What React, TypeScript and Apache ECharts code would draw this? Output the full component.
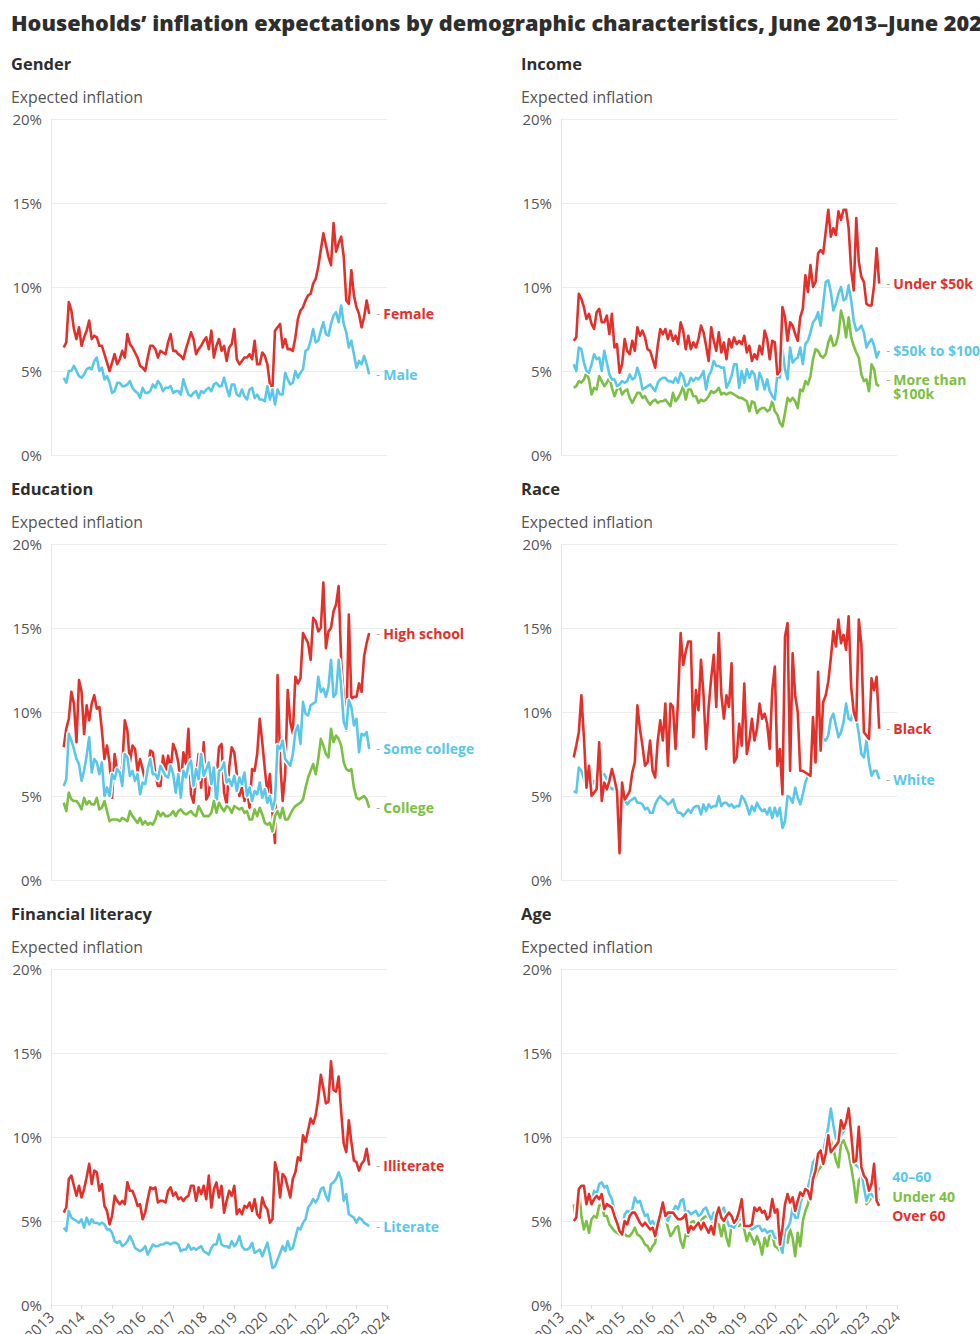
import React, { useEffect, useRef } from "react";
import * as echarts from "echarts";

// ---------- DATA (monthly, June 2013 – June 2023, percent) ----------
const START_YEAR = 2013;
const START_MONTH = 6; // June
const yearTicks = [2013, 2014, 2015, 2016, 2017, 2018, 2019, 2020, 2021, 2022, 2023, 2024];
const yTicks = [0, 5, 10, 15, 20];

const genderFemale = [
  6.4, 6.7, 9.1, 8.6, 7.5, 6.9, 7.6, 6.5, 7.0, 7.4, 8.0, 6.9,
  7.1, 7.0, 6.5, 6.5, 6.0, 5.5, 5.0, 5.5, 6.0, 5.4, 5.7, 6.2,
  5.8, 7.2, 6.6, 6.4, 6.1, 5.8, 5.3, 5.2, 5.0, 5.8, 6.5, 6.5,
  6.3, 5.8, 6.2, 6.1, 6.0, 6.7, 7.2, 6.2, 6.2, 6.0, 5.9, 5.7,
  6.3, 6.8, 7.3, 6.9, 6.0, 6.3, 6.5, 6.8, 7.0, 6.3, 7.4, 5.8,
  6.5, 6.9, 6.2, 6.5, 5.6, 6.4, 6.6, 7.5, 5.7, 5.4, 5.6, 5.8,
  5.8, 6.0, 5.7, 6.8, 5.4, 5.4, 6.1, 5.9, 5.4, 4.2, 4.0, 7.4,
  7.6, 7.8, 6.4, 6.9, 6.3, 6.3, 6.2, 7.0, 8.1, 8.6, 8.8, 9.2,
  9.5, 9.6, 10.2, 10.5, 11.2, 12.2, 13.2, 12.5, 11.8, 11.3, 13.8, 12.1,
  12.6, 13.0, 11.8, 9.2, 9.0, 11.0, 9.5, 8.8, 8.4, 7.6, 8.2, 9.2,
  8.4,
];
const genderMale = [
  4.6, 4.3, 5.0, 5.0, 5.3, 5.0, 4.7, 4.6, 4.8, 5.1, 5.2, 5.1,
  5.6, 5.8, 5.0, 5.2, 4.5, 4.7, 4.3, 3.7, 3.8, 4.3, 4.3, 4.1,
  4.1, 4.2, 4.4, 4.0, 3.8, 3.7, 3.4, 4.0, 3.7, 3.7, 3.8, 4.2,
  4.0, 4.4, 4.2, 3.8, 4.0, 4.0, 4.1, 3.7, 3.8, 3.8, 3.6, 4.5,
  4.0, 3.6, 3.5, 3.7, 3.8, 3.4, 3.8, 3.7, 3.9, 4.0, 3.8, 4.2,
  4.3, 4.1, 4.1, 4.6, 4.0, 3.5, 4.2, 4.2, 3.6, 3.5, 3.9, 3.5,
  3.3, 3.9, 4.0, 3.4, 3.6, 3.3, 3.3, 3.2, 4.1, 3.3, 3.9, 3.0,
  3.9, 3.6, 3.6, 4.9, 4.5, 4.2, 4.3, 5.0, 4.6, 4.9, 5.1, 6.2,
  6.3, 6.8, 7.5, 6.7, 6.8, 7.4, 7.9, 7.2, 7.1, 7.8, 8.3, 8.5,
  7.9, 8.9, 7.8, 7.3, 6.4, 6.8, 6.0, 5.2, 5.6, 5.4, 5.9, 5.4,
  4.8,
];

const incomeUnder50 = [
  6.8, 7.0, 9.6, 9.3, 8.8, 8.1, 8.4, 7.8, 7.5, 8.5, 8.7, 7.9,
  7.9, 8.3, 7.2, 8.4, 6.4, 6.6, 4.9, 5.4, 6.9, 6.2, 6.0, 6.8,
  6.2, 7.6, 7.1, 7.4, 7.0, 6.3, 6.2, 5.7, 5.2, 6.5, 7.5, 7.2,
  7.5, 6.9, 7.4, 6.8, 7.1, 6.6, 7.9, 7.4, 6.3, 7.1, 6.3, 6.7,
  6.4, 6.9, 7.7, 7.3, 6.5, 5.6, 7.6, 6.8, 6.2, 7.3, 6.1, 6.7,
  5.7, 6.9, 6.4, 7.0, 6.6, 6.8, 6.6, 7.1, 6.1, 6.5, 5.6, 6.0,
  5.7, 6.5, 6.0, 7.4, 6.9, 5.7, 6.8, 6.7, 4.8, 5.0, 8.8, 8.2,
  6.8, 7.9, 7.7, 7.2, 6.8, 8.2, 8.7, 10.7, 9.7, 11.3, 10.0, 10.3,
  12.0, 12.2, 12.0, 13.3, 14.6, 13.0, 13.5, 13.1, 14.5, 14.0, 14.6, 14.6,
  13.5, 11.0, 9.8, 14.1, 11.5, 10.6, 10.3, 9.0, 8.9, 8.9, 10.1, 12.3,
  10.2,
];
const income50to100 = [
  5.4, 5.0, 6.4, 6.3, 5.5, 5.0, 4.9, 5.4, 6.0, 5.7, 5.8, 5.0,
  6.2, 5.5, 4.8, 4.5, 4.5, 4.1, 4.2, 4.4, 4.3, 4.4, 4.8, 4.5,
  4.6, 5.2, 4.7, 3.9, 4.0, 4.1, 4.2, 4.0, 3.8, 4.3, 4.5, 4.6,
  4.6, 4.4, 4.4, 4.3, 4.6, 4.3, 4.9, 4.7, 4.1, 4.2, 4.6, 4.4,
  4.6, 4.5, 4.7, 5.0, 3.9, 4.7, 5.0, 5.6, 5.3, 5.3, 5.2, 5.2,
  4.0, 4.3, 4.7, 5.4, 5.4, 4.0, 5.0, 4.3, 5.1, 4.6, 5.0, 4.8,
  3.9, 4.9, 4.5, 3.9, 4.5, 3.8, 3.5, 3.3, 4.8, 4.6, 6.3, 5.1,
  4.5, 6.4, 5.5, 5.7, 5.8, 6.4, 5.4, 6.6, 6.8, 7.3, 7.9, 8.1,
  8.5, 7.7, 9.0, 10.3, 10.4, 9.7, 8.6, 9.0, 9.6, 10.0, 9.2, 9.3,
  10.1, 9.2, 8.0, 7.4, 7.5, 7.7, 7.3, 6.4, 6.7, 6.9, 6.5, 5.8,
  6.2,
];
const incomeOver100 = [
  4.0, 4.1, 4.4, 4.3, 4.5, 4.9, 4.5, 3.6, 4.0, 3.9, 4.7, 4.4,
  4.1, 4.3, 4.6, 4.0, 3.5, 3.9, 4.1, 3.6, 3.8, 3.9, 3.4, 3.1,
  3.4, 3.7, 3.7, 3.4, 3.5, 3.2, 3.0, 3.2, 3.3, 3.1, 3.2, 3.2,
  3.3, 3.1, 2.9, 3.7, 3.2, 3.4, 3.7, 4.1, 3.3, 3.9, 3.9, 3.5,
  3.5, 3.1, 3.3, 3.2, 3.3, 3.5, 3.8, 3.7, 3.8, 4.0, 3.6, 3.7,
  3.6, 3.7, 3.7, 3.6, 3.5, 3.4, 3.4, 3.3, 3.2, 2.6, 3.2, 3.1,
  2.5, 2.7, 2.8, 2.8, 2.6, 2.7, 3.2, 2.6, 2.4, 1.9, 1.7, 2.5,
  3.4, 3.2, 3.4, 3.2, 2.8, 3.9, 3.8, 4.4, 4.2, 4.7, 5.7, 6.3,
  6.2, 5.9, 5.8, 6.0, 6.7, 7.1, 6.5, 6.6, 7.2, 8.6, 8.0, 7.0,
  8.2, 7.0, 6.5, 6.1, 5.8, 4.8, 4.4, 4.5, 3.8, 5.4, 5.1, 4.2,
  4.1,
];

const eduHighSchool = [
  7.9, 9.0, 9.6, 11.2, 10.5, 8.2, 11.9, 11.2, 8.7, 10.4, 9.5, 10.5,
  11.0, 10.2, 10.3, 8.9, 7.2, 8.0, 7.0, 4.9, 7.5, 6.5, 6.0, 6.8,
  9.5, 8.9, 7.0, 8.0, 7.8, 6.5, 7.2, 6.6, 5.9, 6.5, 7.7, 7.6,
  6.3, 5.6, 5.6, 7.4, 6.5, 7.4, 6.6, 8.1, 7.7, 7.0, 5.6, 7.6,
  6.9, 9.0, 5.1, 4.6, 6.1, 7.5, 5.5, 8.2, 4.8, 5.1, 6.7, 5.5,
  6.0, 7.9, 8.1, 5.2, 4.5, 6.7, 7.9, 7.6, 6.3, 5.0, 5.5, 4.7,
  5.4, 4.3, 6.6, 6.5, 7.5, 9.6, 8.2, 6.6, 5.2, 6.3, 4.0, 2.2,
  12.2, 7.2, 4.7, 6.3, 11.3, 9.4, 8.7, 12.1, 11.7, 12.0, 14.7, 14.4,
  14.1, 13.1, 15.6, 15.4, 14.8, 15.0, 17.7, 13.8, 14.8, 15.0, 16.0, 16.4,
  17.5, 13.0, 10.9, 8.9, 15.8, 10.8, 10.9, 10.9, 11.7, 11.2, 13.3, 14.1,
  14.7,
];
const eduSomeCollege = [
  5.6, 6.0, 8.7, 8.3, 7.8, 7.2, 6.9, 5.9, 6.5, 7.4, 8.5, 6.4,
  7.2, 7.0, 6.3, 7.0, 5.0, 5.5, 5.0, 6.3, 6.0, 6.6, 6.4, 5.6,
  7.5, 7.3, 6.2, 6.5, 5.9, 6.3, 5.1, 5.8, 5.7, 6.6, 7.2, 6.3,
  6.3, 6.0, 6.8, 6.5, 6.2, 6.1, 6.8, 6.3, 5.2, 6.3, 4.9, 6.5,
  6.1, 6.8, 7.1, 5.6, 6.6, 6.0, 7.5, 6.2, 6.6, 7.0, 5.7, 6.7,
  4.4, 6.5, 6.6, 7.0, 5.8, 6.0, 5.6, 6.2, 5.3, 6.1, 5.7, 6.4,
  5.0, 5.5, 4.7, 5.3, 5.1, 5.8, 4.9, 5.4, 4.6, 5.0, 4.2, 4.8,
  8.0, 7.8, 8.3, 7.2, 7.0, 6.8, 7.5, 8.8, 9.2, 8.1, 10.6, 9.9,
  9.8, 10.4, 10.5, 10.6, 12.1, 11.2, 11.4, 10.9, 11.5, 13.1, 10.9, 11.1,
  13.1, 11.5, 9.4, 9.0, 10.7, 10.3, 9.2, 9.6, 7.6, 8.7, 8.6, 8.8,
  7.8,
];
const eduCollege = [
  4.6, 4.1, 5.2, 4.8, 4.7, 4.7, 4.5, 4.2, 4.9, 4.5, 4.7, 4.5,
  4.5, 4.9, 4.2, 4.3, 4.7, 4.1, 3.5, 3.6, 3.6, 3.6, 3.5, 3.7,
  3.6, 3.5, 4.1, 3.8, 3.6, 3.4, 3.7, 3.3, 3.5, 3.3, 3.4, 3.3,
  3.6, 4.1, 3.8, 4.0, 3.8, 3.8, 3.9, 4.1, 3.8, 4.1, 4.2, 4.0,
  3.9, 4.0, 4.1, 3.9, 3.8, 4.4, 4.1, 3.8, 3.8, 3.8, 4.0, 4.7,
  4.0, 4.6, 4.3, 4.1, 4.4, 4.3, 4.0, 4.4, 4.3, 4.2, 4.3, 4.0,
  4.1, 3.6, 3.6, 4.2, 3.8, 4.3, 3.9, 3.4, 3.3, 3.4, 2.9, 3.8,
  4.1, 3.7, 4.3, 3.6, 3.6, 3.9, 4.2, 4.4, 4.5, 4.6, 4.8, 5.5,
  6.1, 6.5, 6.9, 6.3, 7.2, 8.4, 8.0, 7.5, 7.3, 9.0, 8.2, 8.6,
  8.4, 8.0, 7.0, 6.6, 6.5, 6.6, 5.5, 4.9, 4.8, 4.9, 5.0, 4.8,
  4.3,
];

const raceBlack = [
  7.3, 8.0, 8.8, 11.0, 8.5, 5.5, 6.8, 5.0, 5.2, 5.4, 8.2, 4.7,
  5.8, 5.4, 5.9, 6.6, 6.0, 5.3, 1.6, 5.8, 4.8, 5.0, 5.3, 6.4,
  7.0, 10.4, 9.0, 8.0, 6.8, 7.0, 8.3, 6.5, 6.1, 8.3, 9.5, 8.3,
  10.5, 6.8, 10.5, 10.3, 7.8, 10.8, 14.7, 12.8, 13.6, 14.2, 14.2, 8.5,
  11.3, 10.1, 13.1, 11.0, 7.8, 10.3, 12.0, 13.4, 10.3, 14.7, 11.0, 9.6,
  11.0, 10.3, 12.9, 7.0, 7.3, 9.3, 8.0, 11.7, 7.5, 8.3, 9.6, 8.3,
  9.0, 10.5, 9.6, 9.9, 9.3, 7.8, 11.3, 12.7, 6.8, 7.8, 5.1, 14.5,
  15.3, 6.5, 13.5, 11.0, 10.0, 6.5, 6.5, 6.4, 6.3, 6.2, 9.7, 7.0,
  12.4, 7.7, 10.6, 11.0, 11.8, 13.2, 14.8, 13.9, 15.5, 14.1, 14.6, 13.7,
  15.7, 11.5, 10.0, 9.5, 15.5, 14.0, 8.8, 8.6, 8.4, 12.0, 11.3, 12.1,
  9.0,
];
const raceWhite = [
  5.3, 5.2, 6.7, 6.5, 6.0, 5.5, 6.0, 5.6, 5.9, 5.7, 6.2, 6.2,
  6.3, 6.0, 5.6, 5.4, 5.5, 4.9, 4.6, 4.7, 4.8, 4.5, 4.7, 4.8,
  4.9, 4.6, 4.6, 4.5, 4.2, 4.3, 4.0, 4.0, 4.5, 4.8, 5.0, 4.8,
  4.7, 4.5, 4.6, 4.8, 4.3, 4.0, 4.0, 3.8, 4.0, 4.2, 4.0, 4.3,
  4.4, 4.4, 3.9, 4.5, 4.1, 4.5, 4.3, 4.4, 4.4, 5.0, 4.4, 4.6,
  4.6, 4.4, 4.5, 4.3, 4.4, 4.4, 5.0, 4.8, 4.4, 3.9, 4.4, 4.1,
  4.6, 4.3, 4.1, 4.2, 3.9, 4.3, 3.7, 4.3, 3.8, 4.3, 3.1, 3.5,
  5.0, 4.9, 4.6, 5.5, 4.9, 4.5, 5.1, 5.8, 6.2, 6.7, 7.0, 7.5,
  7.7, 7.9, 8.4, 8.3, 8.6, 9.6, 9.9, 9.2, 8.5, 8.8, 9.4, 10.5,
  9.6, 9.5, 10.5, 9.6, 8.7, 7.5, 7.3, 8.3, 7.0, 6.2, 6.5, 6.5,
  6.0,
];

const litIlliterate = [
  5.5, 5.8, 7.5, 7.7, 7.1, 6.5, 7.1, 6.4, 6.9, 7.6, 8.4, 7.2,
  8.0, 7.9, 6.8, 7.2, 5.9, 5.6, 4.8, 5.3, 6.5, 6.2, 6.0, 6.2,
  6.0, 7.3, 6.8, 6.8, 6.4, 5.9, 6.0, 5.1, 5.5, 6.3, 7.0, 6.9,
  7.0, 6.1, 6.2, 6.2, 6.1, 6.8, 7.0, 6.5, 6.7, 6.3, 6.4, 6.2,
  6.4, 6.5, 7.1, 7.1, 6.2, 7.0, 6.6, 7.1, 6.3, 7.7, 5.8, 6.9,
  7.3, 6.4, 7.1, 5.5, 6.2, 6.8, 6.5, 7.1, 5.4, 5.7, 5.4, 5.9,
  5.8, 6.1, 5.6, 6.3, 5.4, 5.2, 6.4, 5.9, 5.7, 4.9, 5.1, 8.5,
  7.9, 6.4, 7.8, 7.6, 7.0, 6.4, 7.5, 7.9, 8.8, 8.6, 10.1, 9.7,
  10.4, 11.1, 10.8, 11.3, 12.3, 13.7, 12.9, 12.0, 12.1, 14.5, 12.8, 12.7,
  13.6, 11.5, 9.6, 9.1, 11.0, 9.7, 8.6, 8.5, 8.0, 8.4, 8.6, 9.3,
  8.3,
];
const litLiterate = [
  4.6, 4.4, 5.6, 5.2, 5.1, 5.0, 4.9, 5.1, 4.6, 5.2, 4.8, 5.1,
  4.9, 4.9, 4.8, 4.9, 4.8, 4.5, 4.5, 4.3, 3.8, 3.7, 3.8, 3.5,
  3.6, 3.8, 4.1, 3.8, 3.4, 3.3, 3.2, 3.3, 3.5, 3.0, 3.3, 3.6,
  3.5, 3.5, 3.6, 3.6, 3.7, 3.7, 3.6, 3.7, 3.7, 3.6, 3.2, 3.3,
  3.3, 3.6, 3.3, 3.4, 3.3, 3.4, 3.5, 3.2, 3.1, 3.0, 3.4, 3.6,
  3.6, 4.2, 3.6, 3.5, 3.5, 3.4, 3.8, 3.5, 3.7, 4.1, 3.5, 3.3,
  3.3, 3.4, 3.7, 3.1, 3.2, 3.3, 2.9, 3.3, 3.7, 3.0, 2.2, 2.3,
  2.7, 3.1, 3.5, 3.2, 3.8, 3.3, 3.4, 4.0, 4.6, 4.5, 4.9, 5.1,
  5.8, 6.0, 6.3, 6.1, 6.4, 6.9, 7.0, 6.5, 6.2, 7.2, 7.3, 7.5,
  7.9, 7.5, 6.2, 6.6, 5.4, 5.3, 5.2, 4.9, 5.2, 5.1, 4.9, 4.8,
  4.7,
];

const age40to60 = [
  5.0, 5.3, 7.0, 7.1, 6.9, 6.2, 6.5, 6.2, 6.8, 6.6, 7.2, 7.3,
  7.0, 7.1, 6.6, 6.3, 5.6, 5.2, 4.6, 4.4, 5.4, 5.6, 5.5, 5.7,
  6.4, 6.1, 6.2, 5.7, 5.3, 5.4, 4.8, 5.0, 4.7, 5.1, 5.6, 5.8,
  5.4, 5.0, 5.4, 5.6, 5.9, 5.7, 6.2, 6.3, 5.4, 5.6, 5.4, 5.5,
  5.6, 5.3, 5.4, 5.7, 5.8, 5.4, 5.1, 5.5, 5.3, 5.2, 5.6, 5.8,
  5.1, 4.7, 4.7, 4.6, 4.9, 5.1, 5.1, 4.8, 4.7, 4.6, 4.5, 4.6,
  4.7, 4.7, 4.4, 4.5, 4.3, 4.4, 4.4, 4.0, 4.0, 3.6, 3.1, 4.4,
  4.6, 4.9, 5.8, 5.2, 5.2, 6.0, 6.5, 6.8, 7.0, 7.6, 8.5, 8.7,
  9.0, 9.2, 9.1, 9.9, 10.6, 11.7, 10.7, 9.9, 9.9, 10.1, 10.3, 10.7,
  11.0, 10.0, 8.5, 8.3, 8.2, 8.0, 7.0, 6.2, 6.6, 6.6, 6.4, 6.6,
  7.0,
];
const ageUnder40 = [
  6.0, 5.0, 7.0, 5.3, 4.5, 5.0, 4.3, 5.1, 5.3, 5.2, 5.9, 6.0,
  5.3, 5.3, 4.8, 4.6, 4.4, 4.3, 4.2, 4.3, 4.2, 4.1, 4.1, 4.3,
  4.6, 4.2, 4.1, 3.9, 3.6, 3.5, 3.2, 3.5, 3.7, 4.8, 5.6, 5.7,
  5.2, 4.6, 4.1, 4.3, 4.6, 4.7, 3.8, 3.4, 4.2, 4.1, 4.9, 5.0,
  4.8, 5.0, 5.0, 5.2, 5.3, 5.2, 5.0, 4.9, 4.7, 4.8, 4.1, 4.8,
  4.0, 3.5, 4.8, 4.9, 5.0, 4.7, 4.9, 4.5, 3.8, 4.3, 4.0, 3.6,
  4.1, 3.7, 3.0, 4.0, 3.5, 4.2, 4.2, 3.5, 3.4, 3.2, 3.8, 4.6,
  3.7, 4.5, 4.0, 2.9, 4.3, 3.5, 5.0, 5.6, 6.0, 6.7, 7.4, 7.6,
  8.0, 8.2, 8.6, 9.0, 9.3, 9.8, 9.3, 8.6, 8.2, 9.6, 9.8, 9.4,
  9.0, 8.2, 7.3, 6.1, 7.4, 7.7, 6.8, 6.0, 6.2, 6.4, 6.6, 6.4,
  6.2,
];
const ageOver60 = [
  5.0, 5.2, 6.9, 7.1, 7.1, 6.0, 6.6, 6.0, 6.3, 6.5, 6.3, 6.6,
  5.7, 6.0, 5.9, 5.8, 5.3, 4.9, 4.4, 4.2, 5.0, 4.8, 5.3, 5.5,
  5.5, 5.2, 4.9, 4.7, 4.9, 4.7, 4.5, 4.6, 4.1, 4.8, 5.4, 6.1,
  5.3, 5.5, 5.5, 5.5, 5.3, 5.1, 5.1, 5.2, 5.4, 4.3, 4.7, 4.5,
  4.7, 4.9, 4.5, 4.9, 4.6, 4.3, 4.7, 4.2, 5.3, 5.8, 5.2, 5.0,
  5.3, 5.5, 5.3, 4.9, 5.1, 5.6, 6.3, 4.7, 4.7, 4.7, 4.8, 5.8,
  5.6, 5.8, 5.5, 5.6, 5.1, 5.3, 6.3, 5.5, 5.7, 3.6, 4.6, 6.0,
  6.6, 6.1, 6.4, 5.6, 6.2, 6.7, 6.5, 6.9, 6.8, 6.3, 7.5, 8.0,
  9.0, 9.2, 8.4, 9.0, 10.1, 9.1, 9.3, 9.5, 9.7, 11.0, 10.5, 10.9,
  11.7, 10.2, 8.5, 8.6, 10.6, 8.2, 7.7, 7.5, 6.8, 7.2, 8.4, 6.2,
  5.9,
];

// ---------- STYLE ----------
const FONT = "'Open Sans', 'Noto Sans', sans-serif";
const RED = "#e1312a";
const BLUE = "#5bc7e8";
const GREEN = "#7bbf44";
const TEXT_DARK = "#2e2e2e";
const TEXT_MID = "#555555";

type S = { label: string[]; data: number[]; color: string; dy?: number; dash?: boolean; dist?: number };
type P = { title: string; col: number; row: number; series: S[] };

const panels: P[] = [
  {
    title: "Gender", col: 0, row: 0, series: [
      { label: ["Female"], data: genderFemale, color: RED },
      { label: ["Male"], data: genderMale, color: BLUE },
    ],
  },
  {
    title: "Income", col: 1, row: 0, series: [
      { label: ["More than", "$100k"], data: incomeOver100, color: GREEN },
      { label: ["$50k to $100k"], data: income50to100, color: BLUE },
      { label: ["Under $50k"], data: incomeUnder50, color: RED },
    ],
  },
  {
    title: "Education", col: 0, row: 1, series: [
      { label: ["High school"], data: eduHighSchool, color: RED },
      { label: ["Some college"], data: eduSomeCollege, color: BLUE },
      { label: ["College"], data: eduCollege, color: GREEN },
    ],
  },
  {
    title: "Race", col: 1, row: 1, series: [
      { label: ["White"], data: raceWhite, color: BLUE },
      { label: ["Black"], data: raceBlack, color: RED },
    ],
  },
  {
    title: "Financial literacy", col: 0, row: 2, series: [
      { label: ["Illiterate"], data: litIlliterate, color: RED },
      { label: ["Literate"], data: litLiterate, color: BLUE },
    ],
  },
  {
    title: "Age", col: 1, row: 2, series: [
      { label: ["Under 40"], data: ageUnder40, color: GREEN, dy: -4, dash: false, dist: 13 },
      { label: ["40–60"], data: age40to60, color: BLUE, dy: -11, dash: false, dist: 13 },
      { label: ["Over 60"], data: ageOver60, color: RED, dy: 10, dash: false, dist: 13 },
    ],
  },
];

const COL_LEFT = [51, 561];
const ROW_TOP = [119, 544, 969];
const GRID_W = 336;
const GRID_H = 336;
const TITLE_Y = [63, 488, 913];
const SUB_Y = [97, 522, 947];
const TEXT_X = [11, 521];

function toPoints(vals: number[]) {
  const t0 = START_YEAR + (START_MONTH - 1) / 12;
  return vals.map((v, i) => [t0 + i / 12, v]);
}

function buildOption() {
  const grid: any[] = [];
  const xAxis: any[] = [];
  const yAxis: any[] = [];
  const series: any[] = [];
  const graphic: any[] = [];

  graphic.push({
    type: "text", x: 11, y: 22,
    style: {
      text: "Households’ inflation expectations by demographic characteristics, June 2013–June 2023",
      fill: TEXT_DARK, font: `800 21.7px ${FONT}`, align: "left", verticalAlign: "middle",
    },
  });

  panels.forEach((p, i) => {
    grid.push({
      left: COL_LEFT[p.col], top: ROW_TOP[p.row], width: GRID_W, height: GRID_H,
      containLabel: false, outerBoundsMode: "none",
    });
    const bottom = p.row === 2;
    xAxis.push({
      gridIndex: i, type: "value",
      min: yearTicks[0], max: yearTicks[yearTicks.length - 1], interval: 1,
      axisLine: { show: false },
      axisTick: { show: bottom, length: 4, lineStyle: { color: "#dddddd" } },
      splitLine: { show: false },
      axisLabel: {
        show: bottom, rotate: 45, margin: 9, color: TEXT_MID, fontSize: 15, fontFamily: FONT,
        formatter: (v: number) => String(v),
      },
    });
    yAxis.push({
      gridIndex: i, type: "value", min: yTicks[0], max: yTicks[yTicks.length - 1], interval: 5,
      axisLine: { show: true, lineStyle: { color: "#e6e6e6", width: 1 } },
      axisTick: { show: false },
      splitLine: { show: true, lineStyle: { color: "#ececec", width: 1 } },
      axisLabel: { color: TEXT_MID, fontSize: 15, fontFamily: FONT, margin: 9, formatter: "{value}%" },
    });

    graphic.push({
      type: "text", x: TEXT_X[p.col], y: TITLE_Y[p.row],
      style: { text: p.title, fill: TEXT_DARK, font: `700 16.5px ${FONT}`, align: "left", verticalAlign: "middle" },
    });
    graphic.push({
      type: "text", x: TEXT_X[p.col], y: SUB_Y[p.row],
      style: { text: "Expected inflation", fill: TEXT_MID, font: `400 15.8px ${FONT}`, align: "left", verticalAlign: "middle" },
    });

    p.series.forEach((s) => {
      const pts = toPoints(s.data);
      series.push({
        type: "line", xAxisIndex: i, yAxisIndex: i, data: pts, showSymbol: false, silent: true,
        lineStyle: { color: "#ffffff", width: 5.5, join: "round", cap: "round" }, z: 2,
      });
      const useDash = s.dash !== false;
      const labelText = s.label
        .map((t, k) => (useDash ? (k === 0 ? `{d|-} {n|${t}}` : `{h|-} {n|${t}}`) : `{n|${t}}`))
        .join("\n");
      series.push({
        type: "line", xAxisIndex: i, yAxisIndex: i, data: pts, showSymbol: false, silent: true,
        lineStyle: { color: s.color, width: 2.6, join: "round" }, z: 2,
        endLabel: {
          show: true,
          distance: s.dist ?? 7,
          offset: [0, s.dy ?? 0],
          formatter: () => labelText,
          rich: {
            d: { color: "#a8a8a8", fontSize: 12, fontFamily: FONT, fontWeight: 400, lineHeight: 14 },
            h: { color: "rgba(0,0,0,0)", fontSize: 12, fontFamily: FONT, fontWeight: 400, lineHeight: 14 },
            n: { color: s.color, fontSize: 14, fontFamily: FONT, fontWeight: 700, lineHeight: 14 },
          },
        },
      });
    });
  });

  return { animation: false, grid, xAxis, yAxis, series, graphic, tooltip: { show: false } };
}

export default function App() {
  const ref = useRef<HTMLDivElement>(null);
  useEffect(() => {
    document.body.style.margin = "0";
    if (!ref.current) return;
    const chart = echarts.init(ref.current, undefined, { renderer: "svg" });
    chart.setOption(buildOption() as any);
    return () => chart.dispose();
  }, []);
  return <div ref={ref} style={{ width: 980, height: 1334, background: "#ffffff" }} />;
}
